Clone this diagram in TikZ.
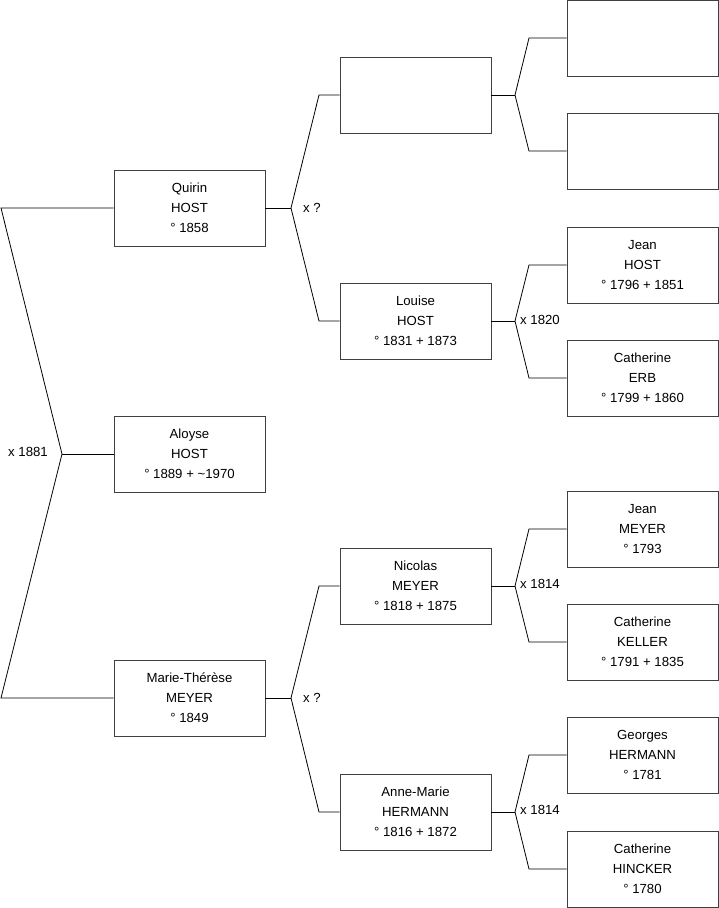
\documentclass[tikz,border=0pt]{standalone}
\usepackage{fontspec}
\setmainfont{Liberation Sans}
\begin{document}
\begin{tikzpicture}[x=1pt,y=-1pt,
  person/.style={draw=black!75,line width=0.8pt,minimum width=151pt,minimum height=76pt,inner sep=0pt,align=center,font=\fontsize{13.2}{20}\selectfont},
  conn/.style={draw=black,line width=0.8pt},
  lbl/.style={inner sep=0pt,font=\fontsize{13.2}{16}\selectfont}]
\useasboundingbox (0,0) rectangle (719,908);
% generation 1
\node[person] (quirin) at (189.5,208) {Quirin\\HOST\\° 1858};
\node[person] (aloyse) at (189.5,454) {Aloyse\\HOST\\° 1889 + \char`~1970};
\node[person] (marie) at (189.5,698) {Marie-Thérèse\\MEYER\\° 1849};
% generation 2
\node[person] (qf) at (415.5,95) {};
\node[person] (louise) at (415.5,321) {Louise\\HOST\\° 1831 + 1873};
\node[person] (nicolas) at (415.5,586) {Nicolas\\MEYER\\° 1818 + 1875};
\node[person] (annemarie) at (415.5,812) {Anne-Marie\\HERMANN\\° 1816 + 1872};
% generation 3
\node[person] (e1) at (642.5,38) {};
\node[person] (e2) at (642.5,151) {};
\node[person] (jeanh) at (642.5,265) {Jean\\HOST\\° 1796 + 1851};
\node[person] (cerb) at (642.5,378) {Catherine\\ERB\\° 1799 + 1860};
\node[person] (jeanm) at (642.5,529) {Jean\\MEYER\\° 1793};
\node[person] (ckeller) at (642.5,642) {Catherine\\KELLER\\° 1791 + 1835};
\node[person] (georges) at (642.5,755) {Georges\\HERMANN\\° 1781};
\node[person] (chincker) at (642.5,869) {Catherine\\HINCKER\\° 1780};
% junctions
\coordinate (j0) at (62,454);
\coordinate (q0) at (1,208);
\coordinate (m0) at (1,698);
\draw[conn] (quirin.west) -- (q0) -- (j0) -- (m0) -- (marie.west);
\draw[conn] (j0) -- (aloyse.west);
\node[lbl,anchor=east] (l0) at (48,452) {x 1881};
% gen1 -> gen2
\coordinate (jq) at (291,208);
\draw[conn] (quirin.east) -- (jq);
\draw[conn] (jq) -- (319,95) -- (qf.west);
\draw[conn] (jq) -- (319,321) -- (louise.west);
\node[lbl,anchor=west] (lq) at (303,208) {x ?};
\coordinate (jm) at (291,698);
\draw[conn] (marie.east) -- (jm);
\draw[conn] (jm) -- (319,586) -- (nicolas.west);
\draw[conn] (jm) -- (319,812) -- (annemarie.west);
\node[lbl,anchor=west] (lm) at (303,698) {x ?};
% gen2 -> gen3
\coordinate (j1) at (515,95);
\draw[conn] (qf.east) -- (j1);
\draw[conn] (j1) -- (529,38) -- (e1.west);
\draw[conn] (j1) -- (529,151) -- (e2.west);
\coordinate (j2) at (515,321);
\draw[conn] (louise.east) -- (j2);
\draw[conn] (j2) -- (529,265) -- (jeanh.west);
\draw[conn] (j2) -- (529,378) -- (cerb.west);
\node[lbl,anchor=west] (l2) at (520,320) {x 1820};
\coordinate (j3) at (515,586);
\draw[conn] (nicolas.east) -- (j3);
\draw[conn] (j3) -- (529,529) -- (jeanm.west);
\draw[conn] (j3) -- (529,642) -- (ckeller.west);
\node[lbl,anchor=west] (l3) at (520,584) {x 1814};
\coordinate (j4) at (515,812);
\draw[conn] (annemarie.east) -- (j4);
\draw[conn] (j4) -- (529,755) -- (georges.west);
\draw[conn] (j4) -- (529,869) -- (chincker.west);
\node[lbl,anchor=west] (l4) at (520,810) {x 1814};
\end{tikzpicture}
\end{document}
